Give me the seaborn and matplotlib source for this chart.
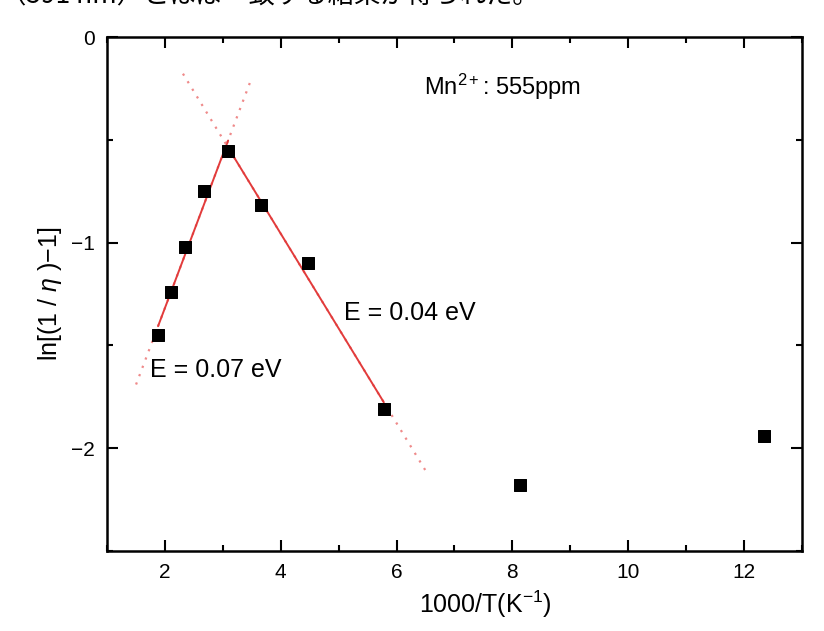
import numpy as np
import pandas as pd
import seaborn as sns
import matplotlib.pyplot as plt

# ---- data
inv_t = [1.88, 2.10, 2.35, 2.68, 3.09, 3.65, 4.47, 5.78, 8.13, 12.35]
ln_eta = [-1.45, -1.24, -1.02, -0.75, -0.556, -0.816, -1.10, -1.81, -2.18, -1.94]

low_idx = [0, 1, 2, 3, 4]      # points used for E = 0.07 eV fit
high_idx = [4, 5, 6, 7]        # points used for E = 0.04 eV fit
low_extent = [1.50, 3.49]      # range of dotted extension
high_extent = [2.31, 6.53]

x_ticks = [2, 4, 6, 8, 10, 12]
y_ticks = [0, -1, -2]

sns.set_theme(style="ticks")
plt.rcParams["font.family"] = ["Liberation Sans", "DejaVu Sans"]
plt.rcParams["mathtext.fontset"] = "custom"
plt.rcParams["mathtext.rm"] = "Liberation Sans"
plt.rcParams["mathtext.it"] = "Liberation Sans:italic"
plt.rcParams["text.color"] = "black"
plt.rcParams["axes.labelcolor"] = "black"
plt.rcParams["xtick.color"] = "black"
plt.rcParams["ytick.color"] = "black"

fig = plt.figure(figsize=(8.24, 6.31), dpi=100)
ax = fig.add_axes([0.130, 0.127, 0.843, 0.814])

df = pd.DataFrame({"x": inv_t, "y": ln_eta})


def fit_line(idx, extent):
    sub = df.iloc[idx]
    k, b = np.polyfit(sub["x"], sub["y"], 1)
    solid = pd.DataFrame({"x": [sub["x"].min(), sub["x"].max()]})
    solid["y"] = k * solid["x"] + b
    dotted = pd.DataFrame({"x": extent})
    dotted["y"] = k * dotted["x"] + b
    return solid, dotted


for idx, ext in [(low_idx, low_extent), (high_idx, high_extent)]:
    solid, dotted = fit_line(idx, ext)
    sns.lineplot(data=dotted, x="x", y="y", ax=ax, color="#ef8a8a",
                 linestyle=(0, (1, 3)), linewidth=1.6)
    sns.lineplot(data=solid, x="x", y="y", ax=ax, color="#e23b3b", linewidth=1.4)

sns.scatterplot(data=df, x="x", y="y", ax=ax, marker="s", s=80,
                color="black", edgecolor="black", zorder=5)

ax.set_xlim(1, 13)
ax.set_ylim(-2.5, 0)
ax.set_xticks(x_ticks)
ax.set_xticks(np.arange(1, 14, 1), minor=True)
ax.set_yticks(y_ticks)
ax.set_yticks(np.arange(-2.5, 0.01, 0.5), minor=True)
ax.tick_params(which="both", direction="in", top=True, right=True,
               width=1.5, labelsize=15, pad=9)
ax.tick_params(which="major", length=8)
ax.tick_params(which="minor", length=4.5)
for s in ax.spines.values():
    s.set_linewidth(1.8)
    s.set_color("black")

ax.set_xlabel("1000/T(K$^{-1}$)", fontsize=18)
ax.set_ylabel("ln[(1 / $\\eta$ )−1]", fontsize=18)
ax.xaxis.set_label_coords(0.545, -0.073)
ax.yaxis.set_label_coords(-0.062, 0.5)

ax.text(6.48, -0.24, "Mn$^{2+}$: 555ppm", fontsize=17, va="center")
ax.text(1.74, -1.62, "E = 0.07 eV", fontsize=18, va="center")
ax.text(5.09, -1.34, "E = 0.04 eV", fontsize=18, va="center")

# cropped sentence from the page above the figure
fig.text(0.0, 0.985, "（591 nm）とほぼ一致する結果が得られた。", fontsize=19,
         family=["Noto Sans CJK JP", "DejaVu Sans"], va="bottom", ha="left")

fig.savefig("out.png", dpi=100)
